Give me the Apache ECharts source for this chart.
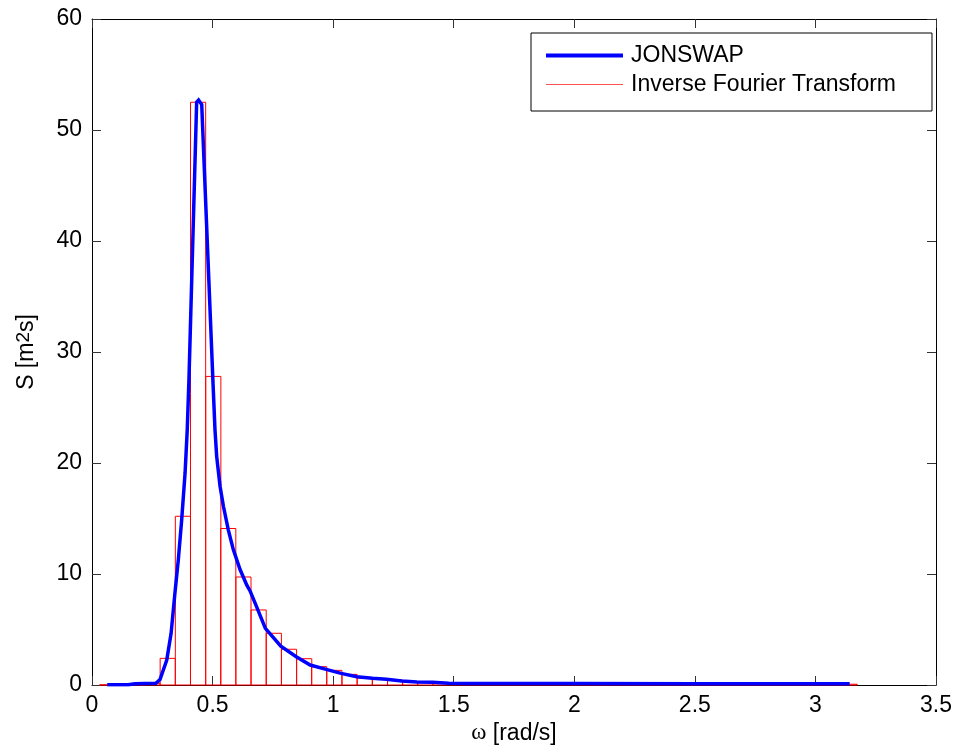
<!DOCTYPE html>
<html><head><meta charset="utf-8">
<script src="https://cdn.jsdelivr.net/npm/echarts@6/dist/echarts.min.js"></script>
<style>html,body{margin:0;padding:0;background:#fff}#chart{width:957px;height:756px}</style>
</head><body><div id="chart"></div>
<script>
// ---- data ----
const xTickValues = [0, 0.5, 1, 1.5, 2, 2.5, 3, 3.5];
const yTickValues = [0, 10, 20, 30, 40, 50, 60];

// Inverse Fourier Transform spectrum bins (centres in rad/s, bin width = 2*pi/100)
const binWidth = 0.0628;
const binCenters = [0.063, 0.126, 0.188, 0.251, 0.314, 0.377, 0.440, 0.503, 0.565, 0.628,
  0.691, 0.754, 0.817, 0.880, 0.942, 1.005, 1.068, 1.131, 1.194, 1.257,
  1.319, 1.382, 1.445, 1.508, 1.571, 1.634, 1.696, 1.759, 1.822, 1.885,
  1.948, 2.011, 2.073, 2.136, 2.199, 2.262, 2.325, 2.388, 2.450, 2.513,
  2.576, 2.639, 2.702, 2.765, 2.827, 2.890, 2.953, 3.016, 3.079, 3.142];
const binValues = [0.02, 0.03, 0.12, 0.15, 2.4, 15.2, 52.5, 27.8, 14.1, 9.73,
  6.76, 4.66, 3.22, 2.37, 1.65, 1.32, 0.96, 0.63, 0.57, 0.45,
  0.27, 0.21, 0.21, 0.10, 0.10, 0.10, 0.09, 0.09, 0.09, 0.09,
  0.08, 0.08, 0.08, 0.08, 0.08, 0.08, 0.07, 0.07, 0.07, 0.07,
  0.07, 0.07, 0.07, 0.07, 0.07, 0.07, 0.07, 0.07, 0.07, 0.07];

// JONSWAP spectrum
const jonswapOmega = [0.063, 0.150, 0.178, 0.265, 0.282, 0.289, 0.310, 0.328, 0.344, 0.358,
  0.372, 0.386, 0.395, 0.402, 0.434, 0.442, 0.455, 0.503, 0.510, 0.517,
  0.531, 0.545, 0.565, 0.586, 0.614, 0.642, 0.655, 0.676, 0.719, 0.783,
  0.847, 0.905, 0.971, 1.033, 1.098, 1.163, 1.221, 1.285, 1.347, 1.413,
  1.479, 1.554, 1.700, 2.000, 2.500, 3.142];
const jonswapS = [0.02, 0.02, 0.12, 0.15, 0.5, 0.6, 2.25, 4.65, 8.3, 11.3,
  14.9, 19.1, 23.0, 27.5, 52.5, 52.7, 52.3, 26.6, 23.0, 20.6,
  17.9, 16.1, 14.0, 12.2, 10.4, 9.0, 8.5, 7.4, 5.1, 3.5,
  2.55, 1.8, 1.41, 1.05, 0.75, 0.6, 0.51, 0.36, 0.27, 0.24,
  0.15, 0.13, 0.13, 0.13, 0.12, 0.12];

const seriesNames = ['JONSWAP', 'Inverse Fourier Transform'];

// ---- chart ----
const FONT = '"Liberation Sans", Arial, Helvetica, sans-serif';
const FS = 23;
const chart = echarts.init(document.getElementById('chart'), null, {renderer: 'canvas'});

function axisBase(ticks) {
  return {
    type: 'value',
    min: ticks[0],
    max: ticks[ticks.length - 1],
    interval: ticks[1] - ticks[0],
    axisLine: {show: true, onZero: false, lineStyle: {color: '#000', width: 1}},
    axisTick: {show: true, inside: true, length: 9, lineStyle: {color: '#333', width: 1}},
    splitLine: {show: false},
    axisLabel: {show: false}
  };
}

const option = {
  animation: false,
  backgroundColor: '#fff',
  textStyle: {fontFamily: FONT},
  grid: {left: 92, top: 19, right: 21, bottom: 71, containLabel: false, outerBoundsMode: 'none'},
  xAxis: [
    Object.assign(axisBase(xTickValues), {
      position: 'bottom',
      axisLabel: {show: true, fontSize: FS, color: '#000', margin: 9, fontFamily: FONT},
      name: '{w|ω} [rad/s]',
      nameLocation: 'middle',
      nameGap: 35,
      nameTextStyle: {fontSize: FS, color: '#000', fontFamily: FONT,
        rich: {w: {fontFamily: '"Liberation Serif", "DejaVu Serif", serif', fontSize: FS, color: '#000'}}}
    }),
    Object.assign(axisBase(xTickValues), {position: 'top'})
  ],
  yAxis: [
    Object.assign(axisBase(yTickValues), {
      position: 'left',
      axisLabel: {show: true, fontSize: FS, color: '#000', margin: 10, fontFamily: FONT},
      name: 'S [m{sup|2}s]',
      nameLocation: 'middle',
      nameGap: 52,
      nameTextStyle: {fontSize: FS, color: '#000', fontFamily: FONT, lineHeight: 26,
        rich: {sup: {fontSize: 19, color: '#000', fontFamily: FONT, verticalAlign: 'top', lineHeight: 16}}}
    }),
    Object.assign(axisBase(yTickValues), {position: 'right'})
  ],
  legend: {
    orient: 'vertical',
    left: 531,
    top: 33,
    padding: [11, 36, 15, 15],
    backgroundColor: '#fff',
    borderColor: '#000',
    borderWidth: 1,
    borderRadius: 0,
    itemWidth: 77,
    itemHeight: 4,
    itemGap: 6,
    selectedMode: false,
    textStyle: {fontSize: FS, color: '#000', fontFamily: FONT, padding: [0, 0, 0, 3]},
    data: [
      {name: seriesNames[0], icon: 'path://M0,0L77,0L77,4L0,4Z', itemStyle: {color: '#0000ff', borderWidth: 0}},
      {name: seriesNames[1], icon: 'path://M0,0L77,0L77,1L0,1Z', itemStyle: {color: '#ff5050', borderWidth: 0}}
    ]
  },
  series: [
    {
      name: seriesNames[1],
      type: 'custom',
      xAxisIndex: 0,
      yAxisIndex: 0,
      z: 2,
      itemStyle: {color: '#ff0000'},
      encode: {x: 0, y: 1},
      data: binCenters.map((c, i) => [c, binValues[i]]),
      renderItem: function (params, api) {
        const c = api.value(0);
        const v = api.value(1);
        const p0 = api.coord([c - binWidth / 2, v]);
        const p1 = api.coord([c + binWidth / 2, 0]);
        return {
          type: 'rect',
          shape: {x: p0[0], y: p0[1], width: p1[0] - p0[0], height: p1[1] - p0[1]},
          style: {fill: 'none', stroke: '#ff0000', lineWidth: 1}
        };
      }
    },
    {
      name: seriesNames[0],
      type: 'line',
      xAxisIndex: 0,
      yAxisIndex: 0,
      z: 3,
      symbol: 'none',
      smooth: false,
      color: '#0000ff',
      lineStyle: {color: '#0000ff', width: 3.5, join: 'miter'},
      data: jonswapOmega.map((w, i) => [w, jonswapS[i]])
    }
  ]
};
chart.setOption(option);
</script>
</body></html>
